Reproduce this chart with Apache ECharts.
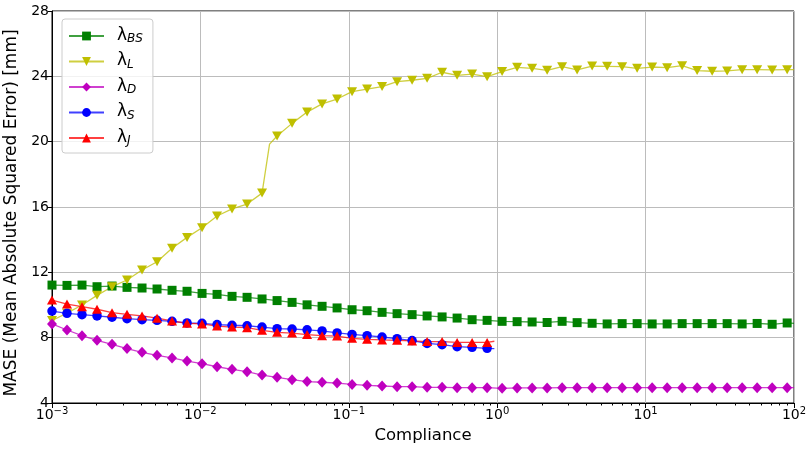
<!DOCTYPE html>
<html>
<head>
<meta charset="utf-8">
<script src="https://cdn.jsdelivr.net/npm/echarts@6/dist/echarts.min.js"></script>
<style>
  html, body { margin: 0; padding: 0; background: #fff; }
  #chart { width: 807px; height: 450px; }
</style>
</head>
<body>
<div id="chart"></div>
<script>
// Compliance values at which each error curve was sampled (log-spaced).
const compliance = [
  0.001, 0.001262, 0.001593, 0.002011, 0.002538, 0.003203, 0.004043, 0.005103, 0.006441, 0.008128,
  0.01026, 0.01295, 0.01634, 0.02063, 0.02603, 0.03286, 0.04147, 0.05234, 0.06606, 0.08337,
  0.1052, 0.1328, 0.1676, 0.2115, 0.2670, 0.3370, 0.4253, 0.5368, 0.6775, 0.8551,
  1.079, 1.362, 1.719, 2.170, 2.738, 3.456, 4.362, 5.506, 6.949, 8.768,
  11.07, 13.97, 17.63, 22.25, 28.08, 35.44, 44.73, 56.45, 71.25, 89.93
];

// MASE [mm] for each regularisation term.
const maseBS = [
  11.22, 11.20, 11.22, 11.12, 11.16, 11.08, 11.04, 10.98, 10.90, 10.84,
  10.71, 10.65, 10.53, 10.47, 10.37, 10.27, 10.16, 10.01, 9.92, 9.82,
  9.71, 9.65, 9.55, 9.47, 9.41, 9.33, 9.27, 9.20, 9.10, 9.06,
  9.00, 8.98, 8.96, 8.93, 9.00, 8.92, 8.88, 8.84, 8.86, 8.86,
  8.84, 8.84, 8.86, 8.86, 8.86, 8.86, 8.84, 8.87, 8.82, 8.90
];
const maseL = [
  9.05, 9.50, 10.00, 10.59, 11.12, 11.53, 12.14, 12.65, 13.47, 14.14,
  14.73, 15.45, 15.88, 16.18, 16.85, 20.35, 21.12, 21.81, 22.31, 22.61,
  23.06, 23.22, 23.37, 23.67, 23.76, 23.88, 24.25, 24.06, 24.14, 23.98,
  24.29, 24.55, 24.49, 24.37, 24.59, 24.39, 24.63, 24.61, 24.59, 24.49,
  24.57, 24.53, 24.65, 24.35, 24.31, 24.33, 24.41, 24.41, 24.39, 24.41
];
const maseD = [
  8.84, 8.47, 8.12, 7.84, 7.59, 7.33, 7.10, 6.92, 6.76, 6.57,
  6.41, 6.22, 6.06, 5.92, 5.71, 5.57, 5.43, 5.31, 5.27, 5.22,
  5.14, 5.08, 5.04, 5.00, 5.00, 4.96, 4.96, 4.94, 4.94, 4.94,
  4.90, 4.92, 4.92, 4.92, 4.94, 4.94, 4.94, 4.94, 4.94, 4.94,
  4.94, 4.94, 4.94, 4.94, 4.94, 4.94, 4.94, 4.94, 4.94, 4.94
];
const maseS = [
  9.63, 9.49, 9.41, 9.33, 9.25, 9.16, 9.10, 9.06, 9.00, 8.90,
  8.88, 8.80, 8.76, 8.73, 8.65, 8.55, 8.53, 8.48, 8.41, 8.29,
  8.20, 8.12, 8.04, 7.94, 7.82, 7.65, 7.57, 7.45, 7.41, 7.35
];
const maseJ = [
  10.30, 10.06, 9.90, 9.74, 9.53, 9.43, 9.33, 9.19, 9.02, 8.88,
  8.84, 8.71, 8.65, 8.61, 8.45, 8.33, 8.28, 8.19, 8.12, 8.10,
  7.96, 7.90, 7.86, 7.84, 7.80, 7.76, 7.76, 7.71, 7.71, 7.71
];

// Line-only samples (no marker) where a curve continues past its markers.
const jumpL = [0.02924, 19.85];          // steep rise of λ_L between two markers
const endLong = 100;                      // curves sampled up to 1e2
const endShort = 0.957;                   // curves sampled up to ~1e0
const endBS = 8.88, endL = 24.41, endD = 4.94, endS = 7.33, endJ = 7.78;

const xTickLabels = [0.001, 0.01, 0.1, 1, 10, 100];
const yTicks = [4, 8, 12, 16, 20, 24, 28];

const FONT = 'DejaVu Sans';

function pairs(ys) {
  return ys.map((y, i) => [compliance[i], y]);
}
function bare(x, y) {
  return { value: [x, y], symbol: 'none' };
}

const dataBS = pairs(maseBS).concat([bare(endLong, endBS)]);
const dataL = pairs(maseL);
dataL.splice(15, 0, bare(jumpL[0], jumpL[1]));
dataL.push(bare(endLong, endL));
const dataD = pairs(maseD).concat([bare(endLong, endD)]);
const dataS = pairs(maseS).concat([bare(endShort, endS)]);
const dataJ = pairs(maseJ).concat([bare(endShort, endJ)]);

// Minor ticks at 2..9 within each decade of the log axis.
const minorTicks = [];
for (let d = -3; d < 2; d++) {
  for (let m = 2; m <= 9; m++) minorTicks.push(+(m * Math.pow(10, d)).toPrecision(3));
}

function series(name, data, symbol, size, color) {
  return {
    name: name,
    type: 'line',
    data: data,
    symbol: symbol,
    symbolSize: size,
    showAllSymbol: true,
    itemStyle: { color: color },
    lineStyle: { color: color, width: 1.3, opacity: 0.75 },
    emphasis: { disabled: true },
    animation: false
  };
}

const chart = echarts.init(document.getElementById('chart'), null, { renderer: 'canvas' });

chart.setOption({
  backgroundColor: '#fff',
  animation: false,
  textStyle: { fontFamily: FONT },
  grid: {
    left: 52, right: 13, top: 11, bottom: 47,
    outerBoundsMode: 'none',
    containLabel: false,
    show: true, borderColor: '#000', borderWidth: 1, backgroundColor: 'transparent'
  },
  legend: {
    orient: 'vertical',
    left: 62, top: 19,
    padding: [6, 10, 6, 6],
    itemWidth: 35,
    itemHeight: 11,
    itemGap: 5.5,
    backgroundColor: 'rgba(255,255,255,0.8)',
    borderColor: '#cccccc',
    borderWidth: 1,
    borderRadius: 3,
    data: ['BS', 'L', 'D', 'S', 'J'],
    formatter: name => '{a|λ}{s|' + name + '}',
    textStyle: {
      padding: [0, 0, 0, 8],
      rich: {
        a: { fontFamily: FONT, fontSize: 17, lineHeight: 18, verticalAlign: 'top', color: '#000' },
        s: { fontFamily: FONT, fontSize: 12, fontStyle: 'italic', lineHeight: 12, verticalAlign: 'bottom', padding: [8, 0, 0, 0], color: '#000' }
      }
    }
  },
  xAxis: [
    {
      type: 'log',
      logBase: 10,
      min: 0.001,
      max: 100,
      name: 'Compliance',
      nameLocation: 'middle',
      nameGap: 20,
      nameTextStyle: { fontFamily: FONT, fontSize: 16.5, color: '#000' },
      axisLine: { lineStyle: { color: '#000', width: 1 } },
      axisTick: { show: true, inside: false, length: 5, lineStyle: { color: '#000' }, customValues: xTickLabels },
      axisLabel: {
        margin: 3,
        customValues: xTickLabels,
        formatter: v => {
          const e = Math.round(Math.log10(v));
          return '{b|10}{e|' + (e < 0 ? '−' : '') + Math.abs(e) + '}';
        },
        rich: {
          b: { fontFamily: FONT, fontSize: 14, lineHeight: 16, verticalAlign: 'bottom', padding: [4, 0, 0, 0], color: '#000' },
          e: { fontFamily: FONT, fontSize: 10, lineHeight: 12, verticalAlign: 'top', color: '#000' }
        }
      },
      splitLine: { show: true, lineStyle: { color: '#bcbcbc', width: 1 } }
    },
    {
      type: 'log',
      logBase: 10,
      min: 0.001,
      max: 100,
      position: 'bottom',
      axisLine: { show: false },
      axisLabel: { show: false },
      splitLine: { show: false },
      axisTick: { show: true, inside: false, length: 2.5, lineStyle: { color: '#000' }, customValues: minorTicks }
    }
  ],
  yAxis: {
    type: 'value',
    min: 4,
    max: 28,
    interval: 4,
    name: 'MASE (Mean Absolute Squared Error) [mm]',
    nameLocation: 'middle',
    nameGap: 30,
    nameTextStyle: { fontFamily: FONT, fontSize: 17, color: '#000', padding: [0, 12, 0, 0] },
    axisLine: { show: true, lineStyle: { color: '#000', width: 1 } },
    axisTick: { show: true, inside: false, length: 4, lineStyle: { color: '#000' } },
    axisLabel: {
      margin: 3,
      fontFamily: FONT, fontSize: 14, color: '#000',
      customValues: yTicks
    },
    splitLine: { show: true, lineStyle: { color: '#bcbcbc', width: 1 } }
  },
  series: [
    series('BS', dataBS, 'rect', 9, '#008000'),
    series('L', dataL, 'path://M0,0L10,0L5,9Z', [10, 9], '#bfbf00'),
    series('D', dataD, 'diamond', [10, 11], '#bf00bf'),
    series('S', dataS, 'circle', 9.5, '#0000ff'),
    series('J', dataJ, 'triangle', [10, 9], '#ff0000')
  ]
});
</script>
</body>
</html>
